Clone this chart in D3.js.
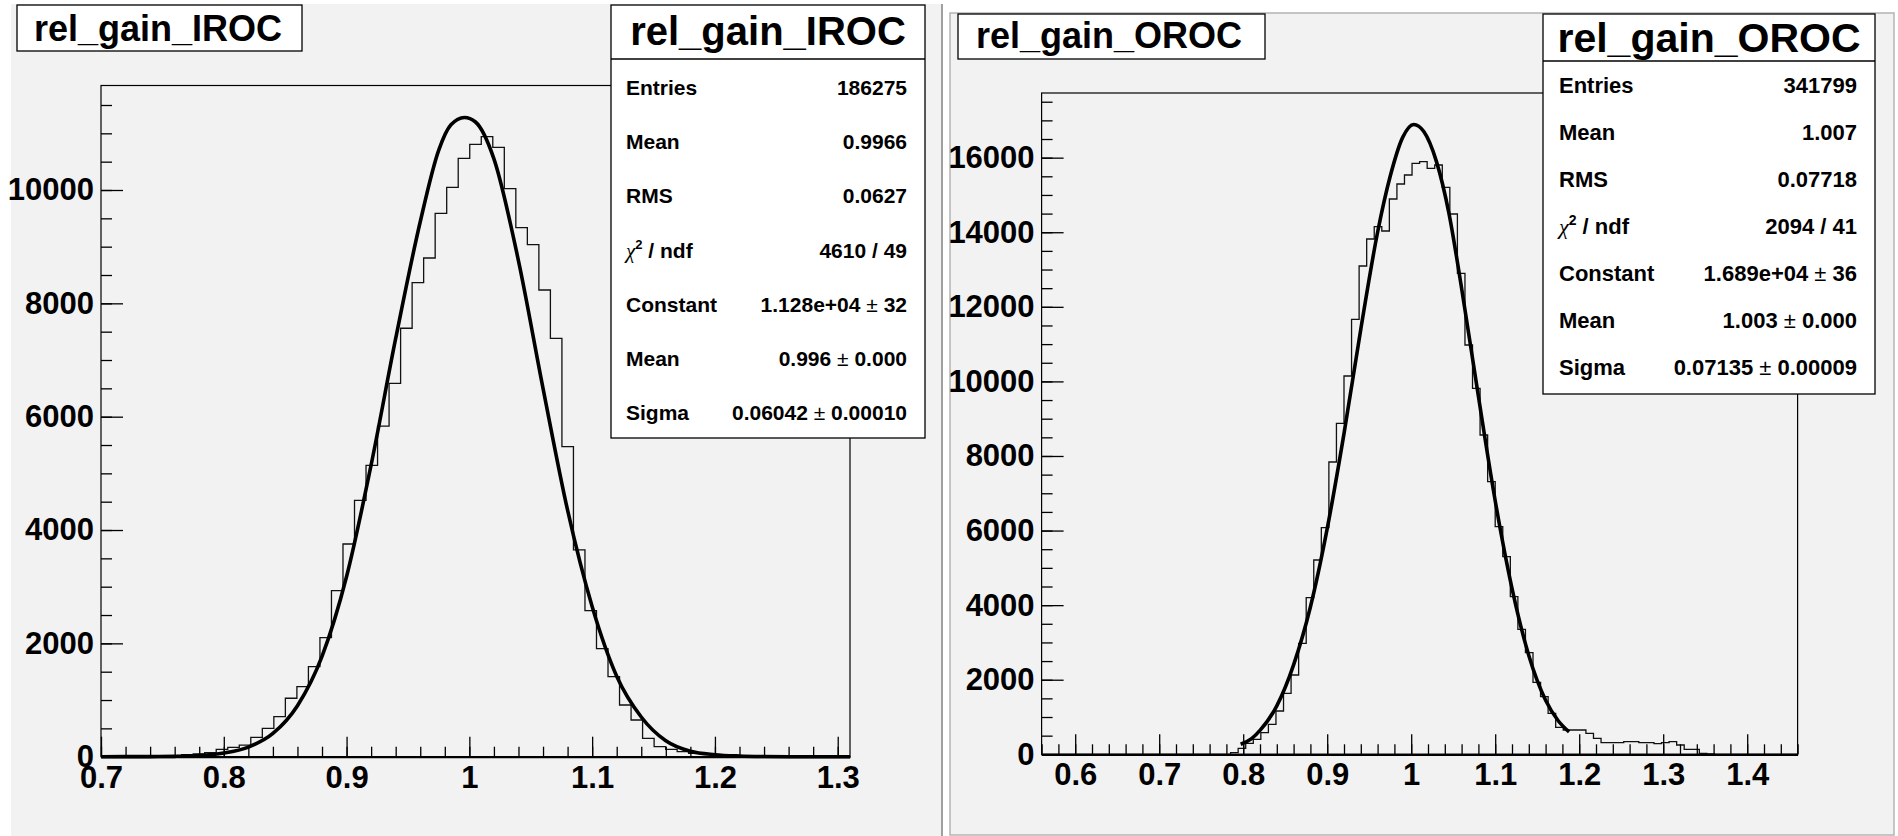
<!DOCTYPE html>
<html>
<head>
<meta charset="utf-8">
<script src="https://cdn.jsdelivr.net/npm/d3@7"></script>
<style>
  html, body { margin: 0; padding: 0; background: #ffffff; }
  svg text { font-family: "Liberation Sans", Arial, Helvetica, sans-serif; font-weight: bold; fill: #000; }
</style>
</head>
<body>
<svg id="chart" width="1898" height="836"></svg>
<script>
// ---- IROC: 65 bins from 0.70 to 1.31 ----
const irocRange = [0.70, 1.31];
const irocYMax = 11844;
const irocCounts = [
    0, 0, 0, 0, 5, 10, 20, 35, 50, 70,
    130, 166, 206, 342, 501, 706, 1031, 1235, 1588, 2100,
    2929, 3753, 4524, 5142, 5835, 6589, 7560, 8364, 8800, 9589,
    10048, 10559, 10806, 10941, 10753, 10023, 9335, 9035, 8235, 7383,
    5470, 3648, 2576, 1906, 1412, 912, 648, 324, 177, 130,
    88, 60, 40, 25, 15, 10, 5, 3, 0, 0,
    0, 0, 0, 0, 0
];
// fit curve points (x, y)
const irocFitX = [0.70, 0.74, 0.76, 0.78, 0.80, 0.82, 0.84, 0.86, 0.88, 0.90,
    0.92, 0.94, 0.96, 0.975, 0.985, 0.996, 1.005, 1.02, 1.04, 1.06,
    1.08, 1.10, 1.12, 1.14, 1.16, 1.18, 1.20, 1.22, 1.24, 1.26, 1.31];
const irocFitY = [0, 2, 6, 20, 65, 170, 410, 900, 1770, 3180,
    5150, 7380, 9440, 10700, 11150, 11280, 11200, 10550, 8750, 6500,
    4350, 2650, 1420, 700, 280, 95, 35, 12, 3, 0, 0];
const irocXTicks = [0.7, 0.8, 0.9, 1.0, 1.1, 1.2, 1.3];
const irocYTicks = [0, 2000, 4000, 6000, 8000, 10000];
const irocStatLabels = ["Entries", "Mean", "RMS", "chi2", "Constant", "Mean", "Sigma"];
const irocStatValues = ["186275", "0.9966", "0.0627", "4610 / 49", "1.128e+04", "0.996", "0.06042"];
const irocStatErrors = [null, null, null, null, "32", "0.000", "0.00010"];

// ---- OROC: 100 bins from 0.56 to 1.46 ----
const orocRange = [0.56, 1.46];
const orocYMax = 17734;
const orocCounts = [
    0, 0, 0, 0, 0, 0, 0, 0, 0, 0,
    0, 0, 0, 0, 0, 0, 0, 0, 0, 0,
    0, 0, 0, 0, 0, 43, 160, 295, 402, 580,
    804, 1161, 1636, 2127, 2977, 4200, 5211, 6077, 7838, 8876,
    10145, 11665, 13095, 13819, 14149, 14033, 14892, 15294, 15535, 15849,
    15892, 15715, 15803, 15205, 14489, 12899, 10976, 9815, 8563, 7310,
    6104, 5299, 4226, 3352, 2725, 1931, 1545, 1100, 720, 652,
    652, 652, 563, 429, 311, 311, 311, 338, 338, 311,
    311, 284, 311, 338, 250, 134, 134, 27, 10, 0,
    0, 0, 0, 0, 0, 0, 0, 0, 0, 0
];
const orocFitX = [0.797, 0.81, 0.82, 0.84, 0.86, 0.88, 0.90, 0.92, 0.94, 0.96,
    0.975, 0.99, 1.003, 1.015, 1.03, 1.045, 1.06, 1.08, 1.10, 1.12,
    1.14, 1.16, 1.175, 1.188];
const orocFitY = [270, 420, 640, 1300, 2400, 3950, 6050, 8600, 11400, 14000,
    15500, 16550, 16890, 16700, 15900, 14500, 12500, 9600, 6800, 4450,
    2650, 1450, 900, 600];
const orocXTicks = [0.6, 0.7, 0.8, 0.9, 1.0, 1.1, 1.2, 1.3, 1.4];
const orocYTicks = [0, 2000, 4000, 6000, 8000, 10000, 12000, 14000, 16000];
const orocStatLabels = ["Entries", "Mean", "RMS", "chi2", "Constant", "Mean", "Sigma"];
const orocStatValues = ["341799", "1.007", "0.07718", "2094 / 41", "1.689e+04", "1.003", "0.07135"];
const orocStatErrors = [null, null, null, null, "36", "0.000", "0.00009"];

const svg = d3.select("#chart");

function stepRange(lo, hi, step) {
    const out = [];
    const n = Math.round((hi - lo) / step);
    for (let i = 0; i <= n; i++) out.push(+(lo + i * step).toFixed(6));
    return out;
}

function drawPanel(p) {
    const g = svg.append("g");

    // pad
    g.append("rect")
        .attr("x", p.pad.x).attr("y", p.pad.y)
        .attr("width", p.pad.w).attr("height", p.pad.h)
        .style("fill", "#f2f2f2")
        .style("stroke", p.padStroke || "none")
        .style("stroke-width", 1.5);

    const f = p.frame;
    const x = d3.scaleLinear().domain(p.range).range([f.left, f.right]);
    const y = d3.scaleLinear().domain([0, p.yMax]).range([f.bottom, f.top]);

    // frame
    g.append("rect")
        .attr("x", f.left).attr("y", f.top)
        .attr("width", f.right - f.left).attr("height", f.bottom - f.top)
        .style("fill", "none").style("stroke", "#000").style("stroke-width", 1.2);

    // histogram as steps
    const n = p.counts.length;
    const bw = (p.range[1] - p.range[0]) / n;
    const pts = p.counts.map((c, i) => [p.range[0] + i * bw, c]);
    pts.push([p.range[1], p.counts[n - 1]]);
    g.append("path")
        .datum(pts)
        .attr("d", d3.line().x(d => x(d[0])).y(d => y(d[1])).curve(d3.curveStepAfter))
        .style("fill", "none").style("stroke", "#111").style("stroke-width", 1.3);

    // fit curve
    const fit = p.fitX.map((v, i) => [v, p.fitY[i]]);
    g.append("path")
        .datum(fit)
        .attr("d", d3.line().x(d => x(d[0])).y(d => y(d[1])).curve(d3.curveMonotoneX))
        .style("fill", "none").style("stroke", "#000").style("stroke-width", 3.6)
        .style("stroke-linejoin", "round");

    // y axis: minor then major
    const yMinor = stepRange(0, Math.floor(p.yMax / 500) * 500, 500);
    g.append("g")
        .attr("transform", `translate(${f.left},0)`)
        .call(d3.axisLeft(y).tickValues(yMinor).tickSizeInner(-11).tickSizeOuter(0).tickFormat(""))
        .call(a => a.select(".domain").remove())
        .selectAll("line").style("stroke", "#000").style("stroke-width", 1.3);

    const yAx = g.append("g")
        .attr("transform", `translate(${f.left},0)`)
        .call(d3.axisLeft(y).tickValues(p.yTicks).tickSizeInner(-22).tickSizeOuter(0).tickPadding(7).tickFormat(d3.format("d")));
    yAx.select(".domain").remove();
    yAx.selectAll("line").style("stroke", "#000").style("stroke-width", 1.3);
    yAx.selectAll("text").style("font-size", "31px").style("font-family", "'Liberation Sans', Arial, sans-serif")
        .style("font-weight", "bold").style("fill", "#000");

    // x axis
    const xMinor = stepRange(Math.ceil(p.range[0] / 0.02 - 1e-6) * 0.02, Math.floor(p.range[1] / 0.02 + 1e-6) * 0.02, 0.02);
    g.append("g")
        .attr("transform", `translate(0,${f.bottom})`)
        .call(d3.axisBottom(x).tickValues(xMinor).tickSizeInner(-10).tickSizeOuter(0).tickFormat(""))
        .call(a => a.select(".domain").remove())
        .selectAll("line").style("stroke", "#000").style("stroke-width", 1.3);

    const xAx = g.append("g")
        .attr("transform", `translate(0,${f.bottom})`)
        .call(d3.axisBottom(x).tickValues(p.xTicks).tickSizeInner(-20).tickSizeOuter(0).tickPadding(9)
            .tickFormat(d => d3.format("")(+d.toFixed(1))));
    xAx.select(".domain").style("stroke", "#000").style("stroke-width", 2.2);
    xAx.selectAll("line").style("stroke", "#000").style("stroke-width", 1.3);
    xAx.selectAll("text").style("font-size", "31px").style("font-family", "'Liberation Sans', Arial, sans-serif")
        .style("font-weight", "bold").style("fill", "#000");

    // title box
    const t = p.title;
    g.append("rect")
        .attr("x", t.x).attr("y", t.y).attr("width", t.w).attr("height", t.h)
        .style("fill", "#fff").style("stroke", "#000").style("stroke-width", 1.3);
    g.append("text")
        .attr("x", t.tx).attr("y", t.ty)
        .style("font-size", t.size + "px")
        .text(p.name);

    // stats box
    const s = p.stats;
    g.append("rect")
        .attr("x", s.x).attr("y", s.y).attr("width", s.w).attr("height", s.h)
        .style("fill", "#fff").style("stroke", "#000").style("stroke-width", 1.3);
    g.append("line")
        .attr("x1", s.x).attr("x2", s.x + s.w).attr("y1", s.sep).attr("y2", s.sep)
        .style("stroke", "#000").style("stroke-width", 1.3);
    g.append("text")
        .attr("x", s.x + s.w / 2).attr("y", s.titleY)
        .attr("text-anchor", "middle")
        .style("font-size", s.titleSize + "px")
        .text(p.name);

    p.statLabels.forEach((lab, i) => {
        const by = s.row0 + i * s.rowStep;
        const lt = g.append("text")
            .attr("x", s.x + s.padL).attr("y", by)
            .style("font-size", s.font + "px");
        if (lab === "chi2") {
            lt.append("tspan").text("\u03C7")
                .style("font-family", "'Liberation Serif', 'DejaVu Serif', serif")
                .style("font-weight", "normal").style("font-style", "italic");
            lt.append("tspan").text("2").attr("dy", -9)
                .style("font-size", Math.round(s.font * 0.62) + "px");
            lt.append("tspan").text(" / ndf").attr("dy", 9);
        } else {
            lt.text(lab);
        }
        const vt = g.append("text")
            .attr("x", s.x + s.w - s.padR).attr("y", by)
            .attr("text-anchor", "end")
            .style("font-size", s.font + "px");
        vt.append("tspan").text(p.statValues[i]);
        if (p.statErrors[i] !== null) {
            vt.append("tspan").text(" \u00B1 ").style("font-weight", "normal");
            vt.append("tspan").text(p.statErrors[i]);
        }
    });
}

// white page, left pad and divider
drawPanel({
    name: "rel_gain_IROC",
    pad: { x: 11, y: 4, w: 931, h: 832 },
    frame: { left: 101, right: 850, top: 85.5, bottom: 756.7 },
    range: irocRange, yMax: irocYMax,
    counts: irocCounts, fitX: irocFitX, fitY: irocFitY,
    xTicks: irocXTicks, yTicks: irocYTicks,
    title: { x: 17, y: 5, w: 285, h: 46, tx: 34, ty: 41, size: 36 },
    stats: { x: 611, y: 5, w: 314, h: 433, sep: 59, titleY: 45, titleSize: 40,
             row0: 95, rowStep: 54.2, font: 21, padL: 15, padR: 18 },
    statLabels: irocStatLabels, statValues: irocStatValues, statErrors: irocStatErrors
});

svg.append("line")
    .attr("x1", 942).attr("x2", 942).attr("y1", 4).attr("y2", 836)
    .style("stroke", "#a0a0a0").style("stroke-width", 2);

drawPanel({
    name: "rel_gain_OROC",
    pad: { x: 950, y: 13, w: 944, h: 822 },
    padStroke: "#b4b4b4",
    frame: { left: 1041.6, right: 1797.6, top: 93, bottom: 754.3 },
    range: orocRange, yMax: orocYMax,
    counts: orocCounts, fitX: orocFitX, fitY: orocFitY,
    xTicks: orocXTicks, yTicks: orocYTicks,
    title: { x: 958, y: 14, w: 307, h: 45, tx: 976, ty: 48, size: 36 },
    stats: { x: 1543, y: 14, w: 332, h: 380, sep: 61, titleY: 52, titleSize: 41,
             row0: 93.3, rowStep: 47, font: 22, padL: 16, padR: 18 },
    statLabels: orocStatLabels, statValues: orocStatValues, statErrors: orocStatErrors
});
</script>
</body>
</html>
